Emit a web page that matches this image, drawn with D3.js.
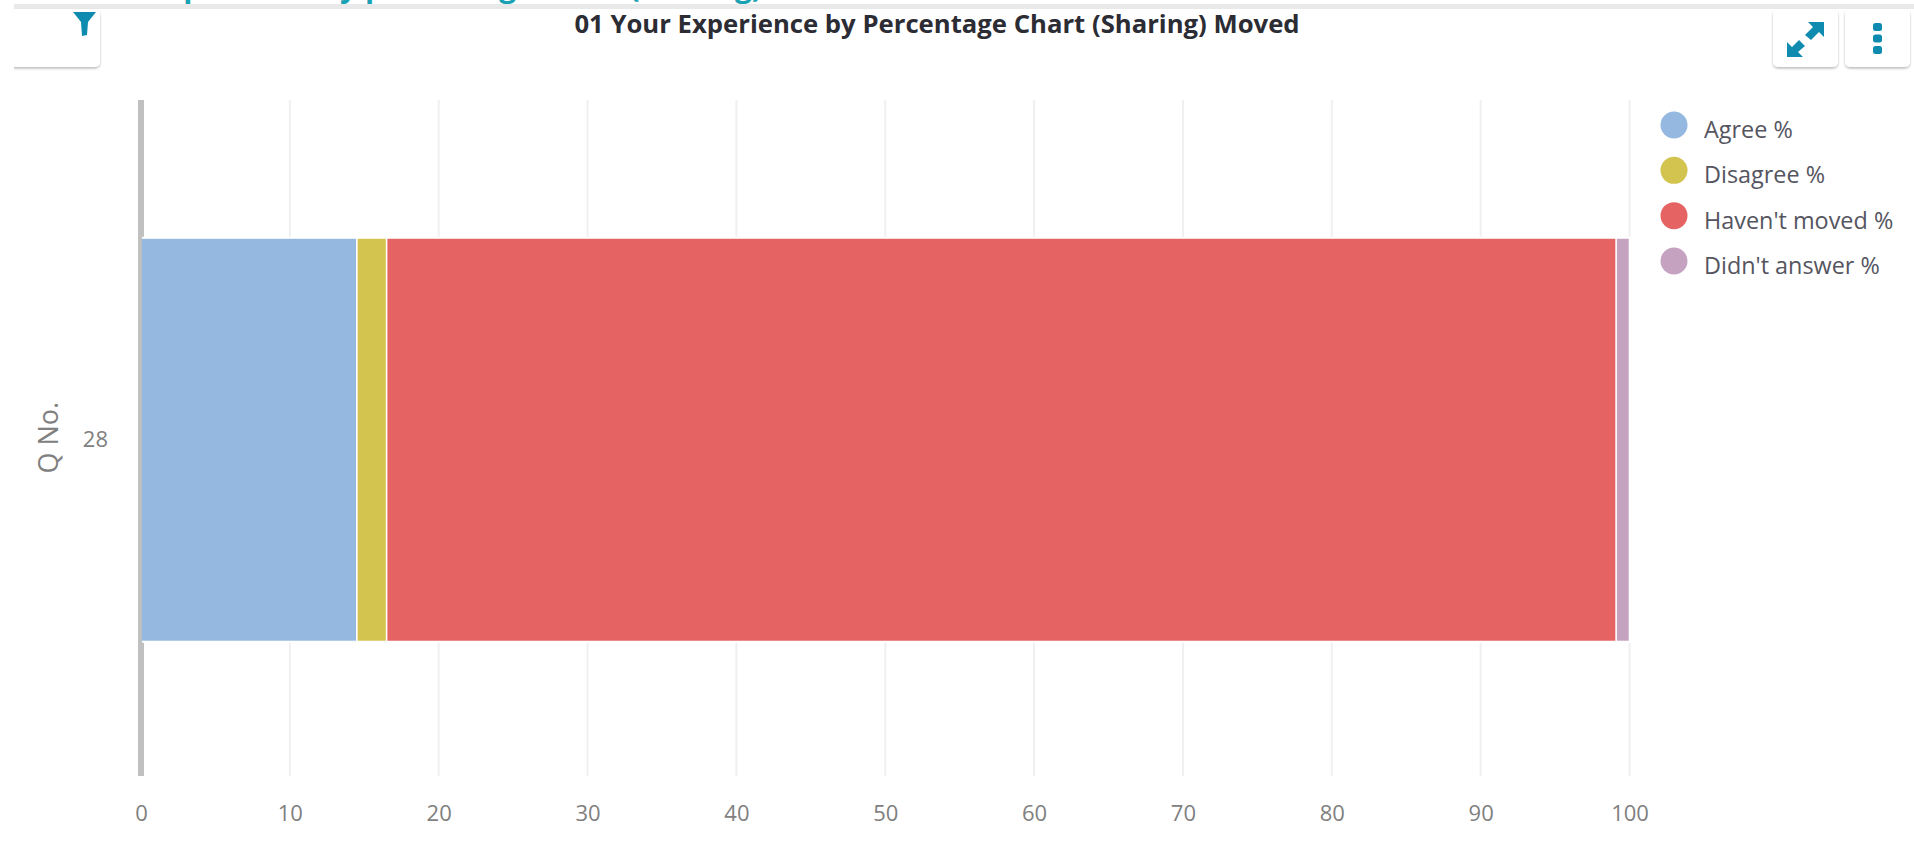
<!DOCTYPE html>
<html>
<head>
<meta charset="utf-8">
<script src="https://cdnjs.cloudflare.com/ajax/libs/d3/7.8.5/d3.min.js"></script>
<style>
html,body{margin:0;padding:0;background:#fff;overflow:hidden}
svg{display:block}
text{font-family:"Open Sans",sans-serif}
</style>
</head>
<body>
<svg id="c" width="1914" height="864"></svg>
<script>
const categories = ["28"];
const seriesNames = ["Agree %", "Disagree %", "Haven't moved %", "Didn't answer %"];
const seriesValues = [[14.5], [2.0], [82.6], [0.9]];
const seriesColors = ["#94b8e0", "#d2c44f", "#e56363", "#c5a2bf"];
const xTicks = [0, 10, 20, 30, 40, 50, 60, 70, 80, 90, 100];
const chartTitle = "01 Your Experience by Percentage Chart (Sharing) Moved";
const pageHeading = "01 Your Experience by percentage chart (sharing)";
const yTitle = "Q No.";

const svg = d3.select("#c");
const defs = svg.append("defs");
const f = defs.append("filter").attr("id", "sh").attr("x", "-10%").attr("y", "-10%").attr("width", "120%").attr("height", "130%");
f.append("feDropShadow").attr("dx", 0).attr("dy", 1.5).attr("stdDeviation", 1.2).attr("flood-color", "#000").attr("flood-opacity", 0.28);

const x = d3.scaleLinear().domain([0, 100]).range([141, 1629.5]);
const y = d3.scaleBand().domain(categories).range([103, 776.5]).padding(0.2525);
const plotTop = 100, plotBottom = 776;
const gap = 0.8;

// clipped page heading above the panel
svg.append("text").attr("x", 762).attr("y", -3.5).attr("text-anchor", "end").attr("font-size", 30).attr("font-weight", 700)
  .attr("fill", "#1aa2b4").text(pageHeading);
svg.append("rect").attr("x", 14).attr("y", 4).attr("width", 1900).attr("height", 5).attr("fill", "#e9e9e9");

// toolbar cards
function card(x0, w) {
  const g = svg.append("g");
  g.append("rect").attr("x", x0).attr("y", 9).attr("width", w).attr("height", 58).attr("rx", 5)
    .attr("fill", "#fff").attr("filter", "url(#sh)");
  return g;
}
card(0, 100);
svg.append("rect").attr("x", 0).attr("y", 0).attr("width", 14).attr("height", 80).attr("fill", "#fff");
card(1773, 65);
card(1845, 65);
const iconColor = "#0f8bb0";
svg.append("path").attr("fill", iconColor)
  .attr("d", d3.line()([[73,12],[96,12],[88,22],[87,35],[82,36],[81,22]]) + "Z");
svg.append("g").attr("fill", iconColor).attr("stroke", "none").call(g => {
  g.append("path").attr("d", "M1824 22L1824 37L1819 32L1811 40L1805 35L1813 27L1808 22Z");
  g.append("path").attr("d", "M1787 57L1787 42L1792 47L1799 40L1805 46L1798 52L1803 57Z");
  [27, 38.5, 50].forEach(cy => g.append("rect").attr("x", 1873).attr("y", cy - 4).attr("width", 9).attr("height", 8).attr("rx", 2.5));
});

// title
svg.append("text").attr("x", 937).attr("y", 33).attr("text-anchor", "middle").attr("font-size", 25.7)
  .attr("font-weight", 700).attr("fill", "#2c2c34").text(chartTitle);

// gridlines
svg.append("g").selectAll("line").data(xTicks.slice(1)).join("line")
  .attr("x1", d => x(d)).attr("x2", d => x(d)).attr("y1", plotTop).attr("y2", plotBottom)
  .attr("stroke", "#f0f0f0").attr("stroke-width", 2);

// axis line
svg.append("line").attr("x1", x(0)).attr("x2", x(0)).attr("y1", plotTop).attr("y2", plotBottom)
  .attr("stroke", "#c0c0c0").attr("stroke-width", 6);

// bottom axis
const ax = svg.append("g").attr("transform", `translate(0,${plotBottom})`)
  .call(d3.axisBottom(x).tickValues(xTicks).tickSize(0).tickPadding(29).tickFormat(d3.format("d")));
ax.select(".domain").remove();
ax.selectAll("text").attr("font-size", 22).attr("fill", "#808080").attr("font-family", '"Open Sans",sans-serif');

// left axis
const ay = svg.append("g").attr("transform", `translate(${x(0)},0)`)
  .call(d3.axisLeft(y).tickSize(0).tickPadding(33));
ay.select(".domain").remove();
ay.selectAll("text").attr("font-size", 22).attr("fill", "#808080").attr("font-family", '"Open Sans",sans-serif');

svg.append("text").attr("transform", `translate(58,${y(categories[0]) + y.bandwidth() / 2 - 2}) rotate(-90)`)
  .attr("text-anchor", "middle").attr("font-size", 27).attr("fill", "#808080").text(yTitle);

// stacked bar
const stackData = categories.map((c, i) => {
  const o = { cat: c };
  seriesNames.forEach((n, j) => o[n] = seriesValues[j][i]);
  return o;
});
const stacked = d3.stack().keys(seriesNames)(stackData);
// white halo behind the bar
svg.append("rect").attr("x", x(0) + 1).attr("width", x(100) - x(0) + 1)
  .attr("y", y(categories[0]) - 2).attr("height", y.bandwidth() + 4).attr("fill", "#fff");
svg.append("g").selectAll("g").data(stacked).join("g")
  .attr("fill", (d, i) => seriesColors[i])
  .selectAll("rect").data(d => d).join("rect")
  .attr("x", d => x(d[0]) + gap).attr("width", d => x(d[1]) - x(d[0]) - 2 * gap)
  .attr("y", d => y(d.data.cat)).attr("height", y.bandwidth());

// legend
const lg = svg.append("g").selectAll("g").data(seriesNames).join("g")
  .attr("transform", (d, i) => `translate(1674,${d3.scaleLinear().domain([0, 3]).range([125, 261])(i)})`);
lg.append("circle").attr("r", 13.5).attr("fill", (d, i) => seriesColors[i]);
lg.append("text").attr("x", 30).attr("y", 13).attr("font-size", 23.4).attr("fill", "#555560").text(d => d);
</script>
</body>
</html>
